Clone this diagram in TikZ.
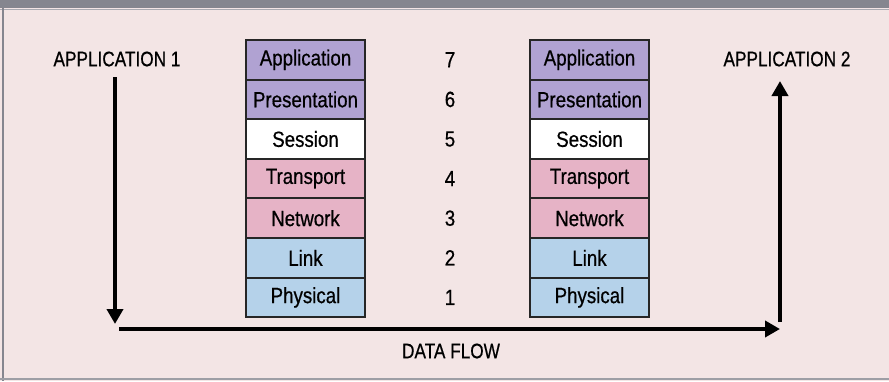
\documentclass[tikz,border=0pt]{standalone}
\usepackage{fontspec}
\setmainfont{Liberation Sans}[FakeStretch=0.85,FakeBold=0.6]
\newfontfamily\capsfont{Liberation Sans}[FakeStretch=0.82,FakeBold=0.6]
\usetikzlibrary{arrows.meta}
\definecolor{bgpink}{HTML}{F3E5E5}
\definecolor{bandgray}{HTML}{85868F}
\definecolor{layerpurple}{HTML}{B0A2D2}
\definecolor{layerpink}{HTML}{E6B3C6}
\definecolor{layerblue}{HTML}{B5D2EA}
\tikzset{
  layer/.style={draw=black!85, line width=2pt, minimum width=119pt, minimum height=39.6pt,
    inner sep=0pt, outer sep=0pt, font=\fontsize{22}{24}\selectfont},
  purplelayer/.style={layer, fill=layerpurple},
  pinklayer/.style={layer, fill=layerpink},
  bluelayer/.style={layer, fill=layerblue},
  whitelayer/.style={layer, fill=white},
  numlabel/.style={font=\fontsize{22}{24}\selectfont, inner sep=0pt},
  caplabel/.style={font=\capsfont\fontsize{21}{24}\selectfont, inner sep=0pt},
  flow/.style={line width=4.5pt, -{Triangle[width=16pt,length=15pt]}}
}
\begin{document}
\begin{tikzpicture}[x=1pt,y=-1pt]
  \useasboundingbox (0,0) rectangle (889,381);
  \fill[bgpink] (0,0) rectangle (889,381);
  \fill[bandgray] (0,0) rectangle (889,8);
  \draw[bandgray!70, line width=1pt] (0,9) -- (889,9);
  \draw[bandgray, line width=2pt] (3,8) -- (3,381);
  \draw[bandgray!80, line width=2pt] (0,379) -- (889,379);

  % left stack
  \node[purplelayer] (la7) at (305.5,59.8)  {Application};
  \node[purplelayer] (la6) at (305.5,99.4)  {Presentation};
  \node[whitelayer]  (la5) at (305.5,139.0) {Session};
  \node[pinklayer]   (la4) at (305.5,178.6) {Transport};
  \node[pinklayer]   (la3) at (305.5,218.2) {Network};
  \node[bluelayer]   (la2) at (305.5,257.8) {Link};
  \node[bluelayer]   (la1) at (305.5,297.4) {Physical};

  % right stack
  \node[purplelayer] (ra7) at (589.5,59.8)  {Application};
  \node[purplelayer] (ra6) at (589.5,99.4)  {Presentation};
  \node[whitelayer]  (ra5) at (589.5,139.0) {Session};
  \node[pinklayer]   (ra4) at (589.5,178.6) {Transport};
  \node[pinklayer]   (ra3) at (589.5,218.2) {Network};
  \node[bluelayer]   (ra2) at (589.5,257.8) {Link};
  \node[bluelayer]   (ra1) at (589.5,297.4) {Physical};

  % numbers
  \node[numlabel] (n7) at (450,59.8)  {7};
  \node[numlabel] (n6) at (450,99.4)  {6};
  \node[numlabel] (n5) at (450,139.0) {5};
  \node[numlabel] (n4) at (450,178.6) {4};
  \node[numlabel] (n3) at (450,218.2) {3};
  \node[numlabel] (n2) at (450,257.8) {2};
  \node[numlabel] (n1) at (450,297.4) {1};

  % labels
  \node[caplabel] (app1) at (117,59) {APPLICATION 1};
  \node[caplabel] (app2) at (787,59) {APPLICATION 2};
  \node[caplabel] (flowlbl) at (451,351) {DATA FLOW};

  % arrow coordinates
  \coordinate (ldtop) at (115,77);
  \coordinate (ldbot) at (115,324);
  \coordinate (hstart) at (119,329);
  \coordinate (hend) at (780,329);
  \coordinate (rubot) at (780,322);
  \coordinate (rutop) at (780,81);

  \draw[flow] (ldtop) -- (ldbot);
  \draw[flow] (hstart) -- (hend);
  \draw[flow] (rubot) -- (rutop);
\end{tikzpicture}
\end{document}
